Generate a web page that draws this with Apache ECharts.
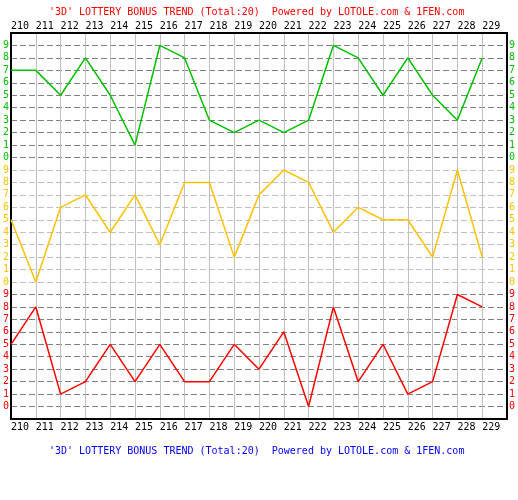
<!DOCTYPE html>
<html>
<head>
<meta charset="utf-8">
<script src="https://cdn.jsdelivr.net/npm/echarts@6/dist/echarts.min.js"></script>
<style>html,body{margin:0;padding:0;background:#fff;}#c{width:518px;height:500px;}</style>
</head>
<body>
<div id="c"></div>
<script>
// Draw numbers (issue numbers)
var issues = [210,211,212,213,214,215,216,217,218,219,220,221,222,223,224,225,226,227,228,229];
// Hundreds digit (top band, green)
var digitTop = [7,7,5,8,5,1,9,8,3,2,3,2,3,9,8,5,8,5,3,8];
// Tens digit (middle band, orange)
var digitMid = [5,0,6,7,4,7,3,8,8,2,7,9,8,4,6,5,5,2,9,2];
// Units digit (bottom band, red)
var digitBot = [5,8,1,2,5,2,5,2,2,5,3,6,0,8,2,5,1,2,9,8];
// Tick labels per band
var bandDigits = [0,1,2,3,4,5,6,7,8,9];
var titleText = "'3D' LOTTERY BONUS TREND (Total:20)  Powered by LOTOLE.com & 1FEN.com";

var GREEN = '#00c000', ORANGE = '#ffc000', RED = '#ff0000';
var FONT = 'DejaVu Sans Mono';

function bandOf(v){ return v < 10 ? 0 : (v < 20 ? 1 : 2); }
function labelColor(v){
  v = Number(v);
  var b = bandOf(v);
  return b === 0 ? RED : (b === 1 ? ORANGE : GREEN);
}
function labelText(v){
  if (v < 0 || v > 29) return '';
  return String(bandDigits[v % 10]);
}
function xLabel(v){ return v >= 230 ? '' : String(v); }
// split line colors: tick index 0 = -1, 1..10 red band, 11..20 orange band, 21..30 green band, 31 top
var splitColors = [];
for (var i = -1; i <= 30; i++) {
  splitColors.push(bandOf(i) === 1 && i >= 0 ? '#c0c0c0' : '#808080');
}

function mk(vals, off){ return vals.map(function(v, i){ return [issues[i], v + off]; }); }

var chart = echarts.init(document.getElementById('c'));
var yBase = {
  type: 'value', min: -1, max: 30, interval: 1,
  axisLine: { show: true, onZero: false, lineStyle: { color: '#000', width: 2 } },
  axisTick: { show: false },
  axisLabel: { fontFamily: FONT, fontSize: 10, margin: 2, formatter: labelText, color: labelColor }
};
chart.setOption({
  backgroundColor: '#fff',
  animation: false,
  title: [
    { text: titleText, left: 44, top: 2, textStyle: { fontFamily: FONT, fontSize: 10, fontWeight: 'normal', color: '#ff0000' } },
    { text: titleText, left: 44, top: 441, textStyle: { fontFamily: FONT, fontSize: 10, fontWeight: 'normal', color: '#0000ff' } }
  ],
  grid: { left: 8, right: 10, top: 33, bottom: 81, containLabel: false },
  xAxis: [
    { type: 'value', position: 'top', min: 210, max: 230, interval: 1,
      axisLine: { show: true, onZero: false, lineStyle: { color: '#000', width: 2 } },
      axisTick: { show: false },
      splitLine: { show: true, lineStyle: { color: '#c0c0c0', width: 1 } },
      axisLabel: { fontFamily: FONT, fontSize: 10, color: '#000', align: 'left', margin: 2,
        showMinLabel: true, formatter: xLabel } },
    { type: 'value', position: 'bottom', min: 210, max: 230, interval: 1,
      axisLine: { show: true, onZero: false, lineStyle: { color: '#000', width: 2 } },
      axisTick: { show: false },
      splitLine: { show: false },
      axisLabel: { fontFamily: FONT, fontSize: 10, color: '#000', align: 'left', margin: 3,
        showMinLabel: true, formatter: xLabel } }
  ],
  yAxis: [
    Object.assign({}, yBase, { position: 'left',
      splitLine: { show: true, lineStyle: { color: splitColors, type: [6, 3], width: 1 } } }),
    Object.assign({}, yBase, { position: 'right', splitLine: { show: false } })
  ],
  series: [
    { type: 'line', xAxisIndex: 0, yAxisIndex: 0, data: mk(digitTop, 20), showSymbol: false,
      lineStyle: { color: GREEN, width: 1.5 }, itemStyle: { color: GREEN } },
    { type: 'line', xAxisIndex: 0, yAxisIndex: 0, data: mk(digitMid, 10), showSymbol: false,
      lineStyle: { color: ORANGE, width: 1.5 }, itemStyle: { color: ORANGE } },
    { type: 'line', xAxisIndex: 0, yAxisIndex: 0, data: mk(digitBot, 0), showSymbol: false,
      lineStyle: { color: RED, width: 1.5 }, itemStyle: { color: RED } }
  ]
});
</script>
</body>
</html>
